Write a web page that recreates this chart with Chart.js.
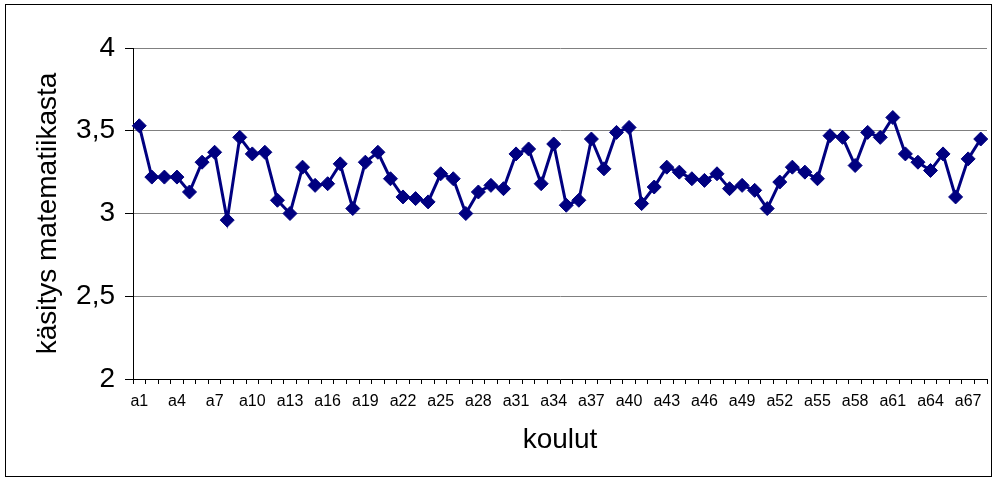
<!DOCTYPE html>
<html>
<head>
<meta charset="utf-8">
<script src="https://cdn.jsdelivr.net/npm/chart.js@4.4.1/dist/chart.umd.min.js"></script>
<style>
  html, body { margin: 0; padding: 0; background: #fff; }
  #wrap { width: 995px; height: 481px; position: relative; }
</style>
</head>
<body>
<div id="wrap"><canvas id="c" width="995" height="481"></canvas></div>
<script>
// Schools a1..a68
const schools = Array.from({ length: 68 }, (_, i) => 'a' + (i + 1));

// Mean rating per school
const kasitys = [
  3.53, 3.22, 3.22, 3.22, 3.13, 3.31, 3.37, 2.96, 3.46, 3.36,
  3.37, 3.08, 3.00, 3.28, 3.17, 3.18, 3.30, 3.03, 3.31, 3.37,
  3.21, 3.10, 3.09, 3.07, 3.24, 3.21, 3.00, 3.13, 3.17, 3.15,
  3.36, 3.39, 3.18, 3.42, 3.05, 3.08, 3.45, 3.27, 3.49, 3.52,
  3.06, 3.16, 3.28, 3.25, 3.21, 3.20, 3.24, 3.15, 3.17, 3.14,
  3.03, 3.19, 3.28, 3.25, 3.21, 3.47, 3.46, 3.29, 3.49, 3.46,
  3.58, 3.36, 3.31, 3.26, 3.36, 3.10, 3.33, 3.45
];

// Value axis ticks
const yTicks = [2, 2.5, 3, 3.5, 4];

const FONT = '"Liberation Sans", Arial, sans-serif';

// Outer frame around the whole chart
const framePlugin = {
  id: 'frame',
  beforeDraw(chart) {
    const ctx = chart.ctx;
    ctx.save();
    ctx.fillStyle = '#fff';
    ctx.fillRect(0, 0, chart.width, chart.height);
    ctx.strokeStyle = '#000';
    ctx.lineWidth = 1;
    ctx.strokeRect(5.5, 4.5, 986, 472);
    ctx.restore();
  }
};

new Chart(document.getElementById('c'), {
  type: 'line',
  data: {
    labels: schools,
    datasets: [{
      data: kasitys,
      borderColor: '#000080',
      backgroundColor: '#000080',
      borderWidth: 3,
      pointStyle: 'rectRot',
      pointRadius: 7,
      pointBorderWidth: 1,
      pointBackgroundColor: '#000080',
      pointBorderColor: '#000080',
      tension: 0
    }]
  },
  options: {
    responsive: false,
    animation: false,
    layout: { padding: { left: 0, top: 48, right: 7, bottom: 0 } },
    plugins: { legend: { display: false }, tooltip: { enabled: false } },
    scales: {
      x: {
        offset: true,
        grid: {
          offset: true,
          drawOnChartArea: false,
          drawTicks: true,
          tickLength: 5,
          color: '#000',
          tickColor: '#000'
        },
        border: { color: '#000', width: 1 },
        ticks: {
          autoSkip: false,
          maxRotation: 0,
          minRotation: 0,
          padding: 8,
          color: '#000',
          font: { family: FONT, size: 16 },
          callback: (v, i) => (i % 3 === 0 ? schools[i] : '')
        },
        title: {
          display: true,
          text: 'koulut',
          color: '#000',
          font: { family: FONT, size: 28 },
          padding: { top: 0, bottom: 24 }
        },
        afterFit: (s) => { s.height = 102; }
      },
      y: {
        min: 2,
        max: 4,
        afterBuildTicks: (s) => { s.ticks = yTicks.map(v => ({ value: v })); },
        grid: {
          color: '#808080',
          tickColor: '#000',
          tickLength: 8,
          lineWidth: 1
        },
        border: { color: '#000', width: 1 },
        ticks: {
          padding: 10,
          color: '#000',
          font: { family: FONT, size: 28 },
          callback: (v) => String(v).replace('.', ',')
        },
        title: {
          display: true,
          text: 'käsitys matematiikasta',
          color: '#000',
          font: { family: FONT, size: 28 },
          padding: { top: 31, bottom: 0 }
        },
        afterFit: (s) => { s.width = 133; }
      }
    }
  },
  plugins: [framePlugin]
});
</script>
</body>
</html>
